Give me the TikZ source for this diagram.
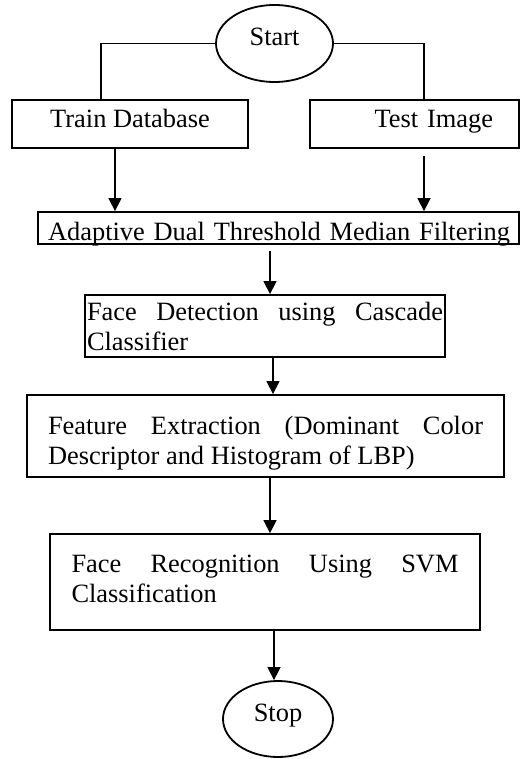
\documentclass[tikz,border=0pt]{standalone}
\usepackage{fontspec}
\setmainfont{Liberation Serif}
\usepackage{tikz}
\usetikzlibrary{calc,arrows.meta,shapes.geometric}
\hyphenpenalty=10000
\newcommand{\flowfont}{\fontsize{13.2}{15}\selectfont}
\tikzset{
  box/.style={draw, rectangle, line width=0.9pt, inner ysep=0pt, font=\flowfont},
  oneline/.style={text height=8pt, text depth=4pt},
  term/.style={draw, ellipse, line width=0.9pt, inner sep=0pt, font=\flowfont,
    text height=5.5pt, text depth=3.5pt},
  link/.style={line width=0.75pt},
  arr/.style={link, -{Triangle[length=6.5pt,width=6.5pt]}},
}

\begin{document}
\begin{tikzpicture}[x=0.5pt,y=-0.5pt]
  \useasboundingbox (0,0) rectangle (520,759);
  % columns of the connectors
  \coordinate (tl) at (101,0);
  \coordinate (tr) at (424,0);
  \coordinate (ta) at (115,0);
  \coordinate (ca) at (270,0);
  \coordinate (cb) at (273,0);
  \coordinate (cc) at (274,0);

  \node[term, minimum width=58.5pt, minimum height=38.5pt] (start) at (274.5,43.5) {Start};
  \node[box, oneline, minimum width=118pt, minimum height=24pt, inner xsep=0pt] (train) at (130,124) {Train Database};
  \node[box, oneline, text width=78.5pt, align=right, inner xsep=13pt, minimum height=24pt] (test) at (414.5,124) {Test Image};
  \node[box, text height=14pt, text depth=2pt, text width=231.5pt, align=right, inner xsep=4.5pt, minimum height=16pt] (adapt) at (278.5,228) {Adaptive Dual Threshold Median Filtering};
  \node[box, text width=178pt, align=justify, inner xsep=1pt, minimum height=31pt] (detect) at (265,326) {Face Detection using Cascade Classifier};
  \node[box, text width=217.5pt, align=justify, inner xsep=10.5pt, minimum height=41pt] (feat) at (265.5,436) {\rule{0pt}{16.5pt}Feature Extraction (Dominant Color Descriptor and Histogram of LBP)};
  \node[box, text width=193.5pt, align=justify, inner xsep=10.75pt, minimum height=48pt] (recog) at (265,582) {Face Recognition Using SVM Classification\rule[-3pt]{0pt}{0pt}};
  \node[term, minimum width=55pt, minimum height=38pt] (stop) at (278,719) {Stop};

  \draw[link] (start.west) -| (train.north -| tl);
  \draw[link] (start.east) -| (test.north -| tr);
  \draw[arr] (train.south -| ta) -- (adapt.north -| ta);
  \draw[arr, shorten <=3.5pt] (test.south -| tr) -- (adapt.north -| tr);
  \draw[arr, shorten <=3pt] (adapt.south -| ca) -- (detect.north -| ca);
  \draw[arr] (detect.south -| cb) -- (feat.north -| cb);
  \draw[arr] (feat.south -| ca) -- (recog.north -| ca);
  \draw[arr] (recog.south -| cc) -- (stop.north -| cc);
\end{tikzpicture}
\end{document}
